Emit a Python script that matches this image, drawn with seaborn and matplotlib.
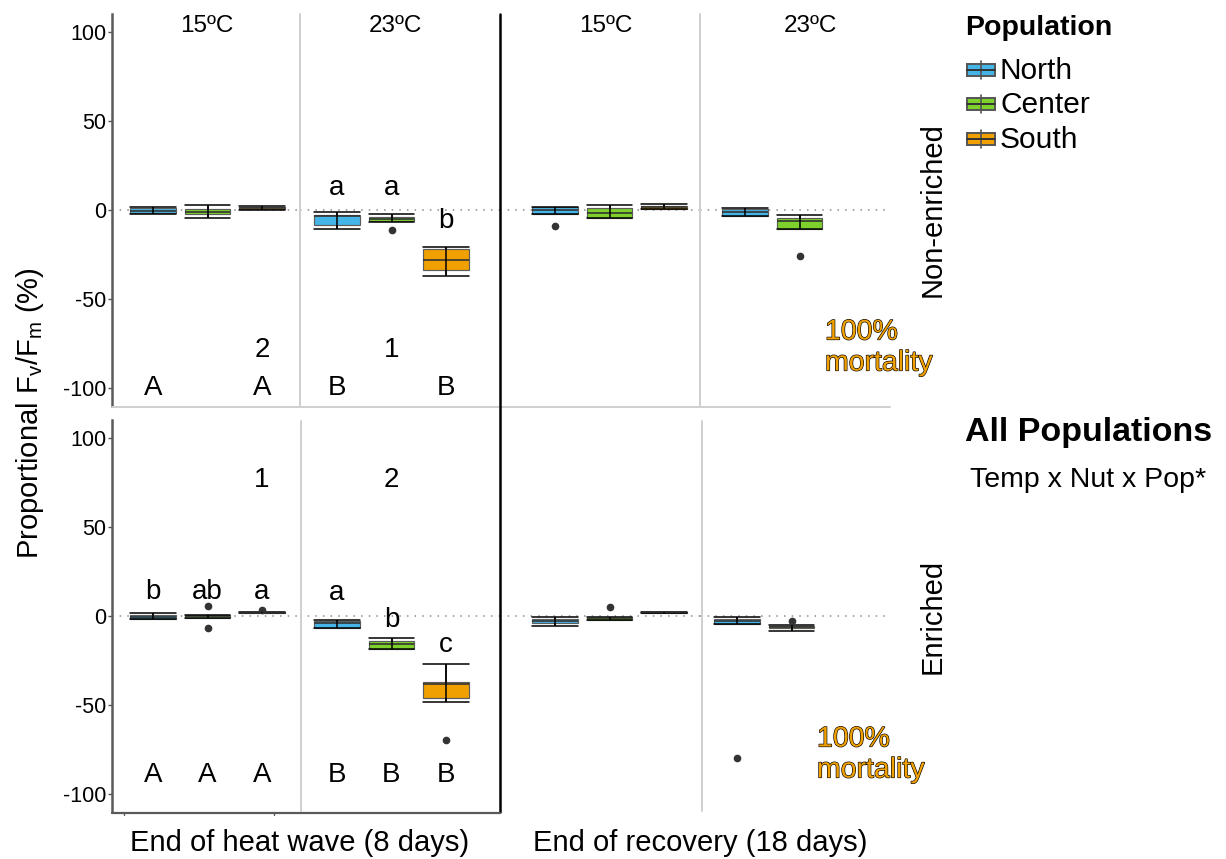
import numpy as np
import pandas as pd
import matplotlib
matplotlib.use("Agg")
import matplotlib.pyplot as plt
import matplotlib.patheffects as pe
from matplotlib.patches import Rectangle
import seaborn as sns

# ---------------------------------------------------------------- data
populations = ["North", "Center", "South"]
pop_colors = ["#45B4E6", "#7DD12A", "#F0A000"]
temperatures = ["15ºC", "23ºC"]
periods = ["End of heat wave (8 days)", "End of recovery (18 days)"]
treatments = ["Non-enriched", "Enriched"]
y_ticks = [100, 50, 0, -50, -100]

# Proportional change in Fv/Fm (%) per replicate, non-enriched
ne_hw15_north = [-2.0, -1.8, -1.5, -1.0, -0.5, 0.2, 1.0, 1.2, 1.5]
ne_hw15_center = [-4.7, -3.0, -2.1, -1.5, -1.0, -0.3, 0.4, 1.5, 2.7]
ne_hw15_south = [0.2, 0.3, 0.4, 0.8, 1.1, 1.4, 1.8, 2.0, 2.3]
ne_hw23_north = [-10.8, -9.5, -8.6, -6.0, -3.6, -3.3, -3.0, -2.0, -1.1]
ne_hw23_center = [-11.2, -6.5, -6.4, -5.8, -5.2, -4.5, -3.7, -3.0, -2.3]
ne_hw23_south = [-37.0, -35.0, -33.7, -30.0, -28.0, -24.0, -21.9, -21.0, -20.6]
ne_rec15_north = [-8.8, -2.4, -2.4, -1.0, -0.2, 0.8, 1.5, 1.6, 1.8]
ne_rec15_center = [-4.7, -4.7, -4.7, -3.0, -1.9, -0.5, 1.1, 2.0, 2.6]
ne_rec15_south = [0.5, 0.6, 0.7, 1.2, 1.7, 2.0, 2.2, 3.0, 3.4]
ne_rec23_north = [-3.4, -3.3, -3.2, -2.0, -1.1, -0.3, 0.7, 0.9, 1.0]
ne_rec23_center = [-26.0, -10.9, -10.9, -8.0, -6.0, -5.0, -4.5, -3.5, -3.0]
ne_rec23_south = []  # 100% mortality

# Proportional change in Fv/Fm (%) per replicate, enriched
en_hw15_north = [-1.9, -1.9, -1.9, -1.0, -0.4, 0.2, 0.7, 1.3, 1.9]
en_hw15_center = [-6.7, -0.9, -0.9, -0.6, -0.4, 0.0, 0.4, 0.4, 5.8]
en_hw15_south = [1.6, 1.6, 1.6, 1.8, 1.9, 2.0, 2.2, 2.2, 3.4]
en_hw23_north = [-7.0, -6.8, -6.6, -5.0, -4.1, -3.5, -2.8, -2.6, -2.5]
en_hw23_center = [-18.6, -18.5, -18.4, -17.0, -15.9, -14.8, -13.9, -13.0, -12.2]
en_hw23_south = [-69.7, -48.1, -45.9, -40.0, -38.2, -37.5, -36.9, -30.0, -26.8]
en_rec15_north = [-5.8, -4.5, -3.7, -3.2, -2.8, -2.3, -1.9, -1.0, -0.5]
en_rec15_center = [-2.2, -2.2, -2.2, -1.8, -1.3, -0.8, -0.4, -0.4, 4.9]
en_rec15_south = [1.5, 1.5, 1.5, 1.8, 2.0, 2.2, 2.4, 2.4, 2.4]
en_rec23_north = [-79.6, -4.7, -4.7, -3.5, -2.6, -2.2, -1.9, -1.0, -0.7]
en_rec23_center = [-8.4, -7.5, -7.0, -6.6, -6.3, -5.8, -5.5, -5.2, -2.9]
en_rec23_south = []  # 100% mortality

# Post-hoc group letters
ne_hw23_letters = ["a", "a", "b"]
en_hw15_letters = ["b", "ab", "a"]
en_hw23_letters = ["a", "b", "c"]
ne_hw15_temp = ["A", "", "A"]
ne_hw23_temp = ["B", "", "B"]
en_hw15_temp = ["A", "A", "A"]
en_hw23_temp = ["B", "B", "B"]
ne_nut = ["", "", "2"], ["", "1", ""]
en_nut = ["", "", "1"], ["", "2", ""]

# ---------------------------------------------------------------- style
sns.set_style("white")
plt.rcParams["font.family"] = ["Liberation Sans", "DejaVu Sans"]
plt.rcParams["mathtext.default"] = "regular"
for key in ["text.color", "axes.labelcolor", "xtick.color", "ytick.color"]:
    plt.rcParams[key] = "black"

W, H = 1226, 859
fig = plt.figure(figsize=(W / 100, H / 100), dpi=100)


def rect(x0, y0, x1, y1):
    return [x0 / W, 1 - y1 / H, (x1 - x0) / W, (y1 - y0) / H]


SPACING = 54.5  # pixel distance between neighbouring boxes
rows = [(14.2, 405.8), (420.2, 811.8)]
cols = [
    [(112, 300, 153), (300, 500, 337), (500, 700, 555), (700, 890, 745)],
    [(112, 300, 153), (300, 500, 337), (500, 700, 555), (700, 890, 737)],
]
panel_data = [
    [
        [ne_hw15_north, ne_hw15_center, ne_hw15_south],
        [ne_hw23_north, ne_hw23_center, ne_hw23_south],
        [ne_rec15_north, ne_rec15_center, ne_rec15_south],
        [ne_rec23_north, ne_rec23_center, ne_rec23_south],
    ],
    [
        [en_hw15_north, en_hw15_center, en_hw15_south],
        [en_hw23_north, en_hw23_center, en_hw23_south],
        [en_rec15_north, en_rec15_center, en_rec15_south],
        [en_rec23_north, en_rec23_center, en_rec23_south],
    ],
]

palette = dict(zip(populations, pop_colors))
axes = {}
for r, (y0, y1) in enumerate(rows):
    for c, (x0, x1, c0) in enumerate(cols[r]):
        ax = fig.add_axes(rect(x0, y0, x1, y1))
        ax.patch.set_alpha(0)
        groups = panel_data[r][c]
        df = pd.DataFrame({
            "Population": [p for p, g in zip(populations, groups) for _ in g],
            "value": [v for g in groups for v in g],
        })
        sns.boxplot(
            data=df, x="Population", y="value", hue="Population",
            order=populations, hue_order=populations, palette=palette,
            saturation=1, width=0.83, dodge=False, legend=False, ax=ax,
            linecolor="#5c5c5c", linewidth=0.85, capwidths=0.83,
            medianprops=dict(color="#333333", linewidth=1.2),
            whiskerprops=dict(color="black", linewidth=1.1),
            capprops=dict(color="black", linewidth=1.1),
            flierprops=dict(marker="o", markersize=4.5, markerfacecolor="#333333",
                            markeredgecolor="#333333"),
        )
        # errorbar-style line running through each box
        for i, g in enumerate(groups):
            if len(g) == 0:
                continue
            v = np.asarray(g)
            q1, q3 = np.percentile(v, [25, 75])
            iqr = q3 - q1
            lo = v[v >= q1 - 1.5 * iqr].min()
            hi = v[v <= q3 + 1.5 * iqr].max()
            ax.vlines(i, lo, hi, color="black", linewidth=1.1, zorder=4)
        ax.axhline(0, color="#8c8c8c", linewidth=1.1, linestyle=(0, (1, 4)), zorder=0.5)
        xmin = -(c0 - x0) / SPACING
        ax.set_xlim(xmin, xmin + (x1 - x0) / SPACING)
        ax.set_ylim(-110, 110)
        ax.set_xlabel("")
        ax.set_ylabel("")
        ax.set_xticks([])
        for s in ax.spines.values():
            s.set_visible(False)
        if c == 0:
            ax.set_yticks(y_ticks)
            ax.set_yticklabels([str(t) for t in y_ticks], fontsize=15.5)
            ax.tick_params(axis="y", length=3, width=1, color="#555555", pad=1,
                           left=True, labelcolor="black")
            ax.spines["left"].set_visible(True)
            ax.spines["left"].set_color("#5a5a5a")
            ax.spines["left"].set_linewidth(1.8)
        else:
            ax.set_yticks([])
        axes[(r, c)] = ax

LETTER_FS = 20


def put_letters(ax, letters, ys):
    if np.isscalar(ys):
        ys = [ys] * len(letters)
    for i, (t, y) in enumerate(zip(letters, ys)):
        if t:
            ax.text(i, y, t, ha="center", va="baseline", fontsize=LETTER_FS)


# non-enriched row
put_letters(axes[(0, 1)], ne_hw23_letters, [8.4, 8.4, -10.3])
put_letters(axes[(0, 0)], ne_nut[0], -82.6)
put_letters(axes[(0, 1)], ne_nut[1], -82.6)
put_letters(axes[(0, 0)], ne_hw15_temp, -104)
put_letters(axes[(0, 1)], ne_hw23_temp, -104)
# enriched row
put_letters(axes[(1, 0)], en_hw15_letters, 9.5)
put_letters(axes[(1, 1)], en_hw23_letters, [9.0, -6.2, -20.2])
put_letters(axes[(1, 0)], en_nut[0], 72.5)
put_letters(axes[(1, 1)], en_nut[1], 72.5)
put_letters(axes[(1, 0)], en_hw15_temp, -93.3)
put_letters(axes[(1, 1)], en_hw23_temp, -93.3)

# ---------------------------------------------------------------- overlay (pixel coordinates)
ov = fig.add_axes([0, 0, 1, 1], zorder=10)
ov.set_xlim(0, W)
ov.set_ylim(H, 0)
ov.axis("off")
ov.patch.set_alpha(0)

light = "#cfcfcf"
# facet separators
ov.plot([300, 300], [14, 406], color=light, lw=1.4)
ov.plot([700, 700], [14, 406], color=light, lw=1.4)
ov.plot([301, 301], [421, 811], color=light, lw=1.4)
ov.plot([702, 702], [421, 811], color=light, lw=1.4)
ov.plot([112, 890], [407, 407], color=light, lw=1.4)
ov.plot([500, 500], [14, 812], color="black", lw=1.8)
ov.plot([112, 500], [812.5, 812.5], color="#5a5a5a", lw=1.6)
ov.plot([124, 124], [812, 815], color="#5a5a5a", lw=1)
ov.plot([274, 274], [812, 815], color="#5a5a5a", lw=1)

# strip labels
for xc, t in zip([207, 395, 606, 810], temperatures * 2):
    ov.text(xc, 26, t, ha="center", va="center", fontsize=17.5)
ov.text(933, 210, treatments[0], ha="center", va="center", rotation=90, fontsize=21)
ov.text(933, 616, treatments[1], ha="center", va="center", rotation=90, fontsize=21)

# axis titles
ov.text(300, 843, periods[0], ha="center", va="center", fontsize=21)
ov.text(700, 843, periods[1], ha="center", va="center", fontsize=21)
ov.text(30, 413, r"Proportional F$_{v}$/F$_{m}$ (%)", ha="center", va="center",
        rotation=90, fontsize=21)

# mortality notes
for (xt, yt) in [(825, 348), (817, 755)]:
    ov.text(xt, yt, "100%\nmortality", ha="left", va="center", fontsize=20.5,
            color="#F0A000", linespacing=1.25,
            path_effects=[pe.Stroke(linewidth=0.9, foreground="black"), pe.Normal()])

# legend
ov.text(965, 28, "Population", ha="left", va="center", fontsize=20.5, fontweight="bold")
for yc, name, col in zip([70, 104, 139], populations, pop_colors):
    ov.plot([981, 981], [yc - 9, yc + 9], color="#555555", lw=1.2)
    ov.add_patch(Rectangle((967, yc - 6), 28, 12, facecolor=col, edgecolor="#555555", lw=1.4))
    ov.plot([967, 995], [yc, yc], color="#333333", lw=1.4)
    ov.text(1000, yc + 1, name, ha="left", va="center", fontsize=21.5)

ov.text(965, 432, "All Populations", ha="left", va="center", fontsize=24.5, fontweight="bold")
ov.text(970, 480, "Temp x Nut x Pop*", ha="left", va="center", fontsize=20.5)

fig.savefig("out.png", dpi=100)
